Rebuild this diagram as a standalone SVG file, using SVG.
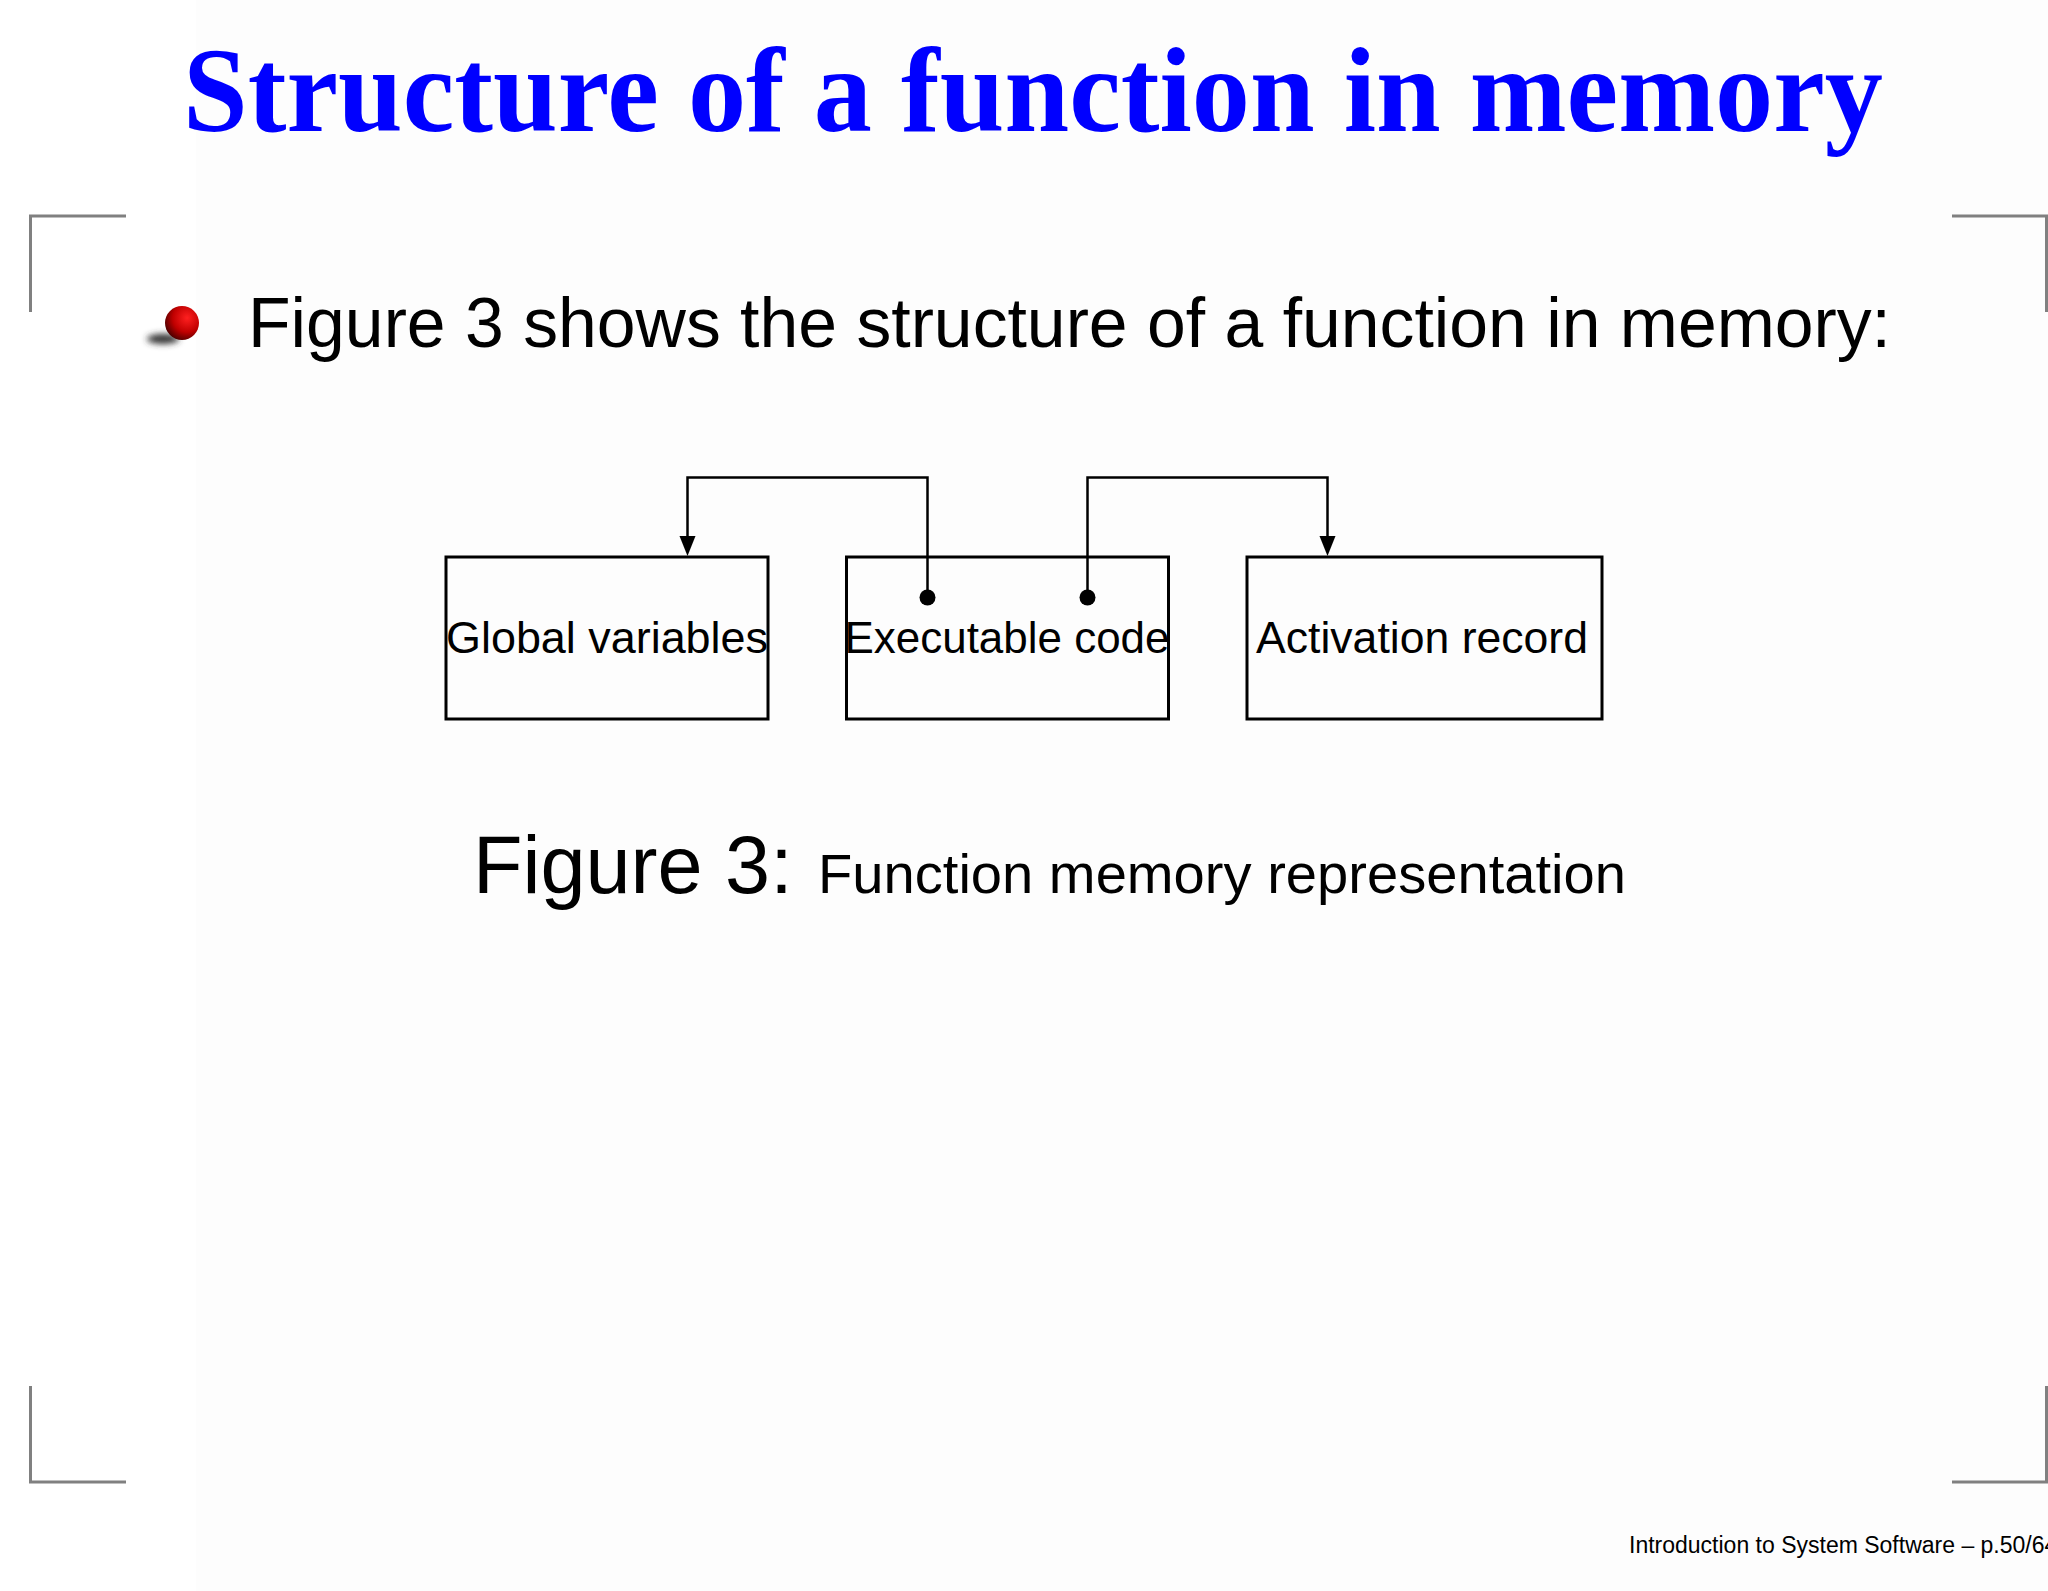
<svg xmlns="http://www.w3.org/2000/svg" width="2048" height="1591" viewBox="0 0 2048 1591">
<defs>
<style>
.corner{fill:none;stroke:#808080;stroke-width:3}
.box{fill:none;stroke:#000;stroke-width:3}
.lbl{font-family:"Liberation Sans",Arial,sans-serif;font-size:45px;fill:#000;text-anchor:middle}
.conn{fill:none;stroke:#000;stroke-width:2.5}
</style>
<marker id="arrow" markerWidth="16" markerHeight="22" refX="8" refY="20" orient="auto" markerUnits="userSpaceOnUse" viewBox="0 0 16 22">
<path d="M0,0 L16,0 L8,20 Z" fill="#000" transform="rotate(-90 8 10) translate(-1 -1)"/>
</marker>
<radialGradient id="ball" cx="0.65" cy="0.35" r="0.7">
<stop offset="0" stop-color="#ff2020"/>
<stop offset="0.6" stop-color="#c00000"/>
<stop offset="1" stop-color="#500000"/>
</radialGradient>
<filter id="blur" x="-50%" y="-100%" width="200%" height="300%"><feGaussianBlur stdDeviation="3"/></filter>
</defs>
<rect x="0" y="0" width="2048" height="1591" fill="#ffffff"/>
<rect x="196" y="0" width="1852" height="1591" fill="#fdfdfd"/>

<g id="title">
<text x="183" y="131" font-family="'Liberation Serif','Times New Roman',serif" font-weight="bold" font-size="120" fill="#0000ff" textLength="1700" lengthAdjust="spacingAndGlyphs">Structure of a function in memory</text>
</g>

<g id="corners">
<path class="corner" d="M126,216 H30.5 V312"/>
<path class="corner" d="M1952,216 H2046.5 V312"/>
<path class="corner" d="M30.5,1386 V1482 H126"/>
<path class="corner" d="M2046.5,1386 V1482 H1952"/>
</g>

<g id="bullet">
<ellipse cx="163" cy="339" rx="16" ry="5" fill="#333" filter="url(#blur)"/>
<circle cx="182" cy="323" r="17" fill="url(#ball)"/>
<text x="248" y="347" font-family="'Liberation Sans',Arial,sans-serif" font-size="70" fill="#000" textLength="1643" lengthAdjust="spacingAndGlyphs">Figure 3 shows the structure of a function in memory:</text>
</g>

<g id="node-global">
<rect class="box" x="446" y="557" width="322" height="162"/>
<text class="lbl" x="607" y="653" textLength="322" lengthAdjust="spacingAndGlyphs">Global variables</text>
</g>
<g id="node-exec">
<rect class="box" x="846.5" y="557" width="322" height="162"/>
<text class="lbl" x="1007" y="653" textLength="325" lengthAdjust="spacingAndGlyphs">Executable code</text>
</g>
<g id="node-activation">
<rect class="box" x="1247" y="557" width="355" height="162"/>
<text class="lbl" x="1422" y="653" textLength="332" lengthAdjust="spacingAndGlyphs">Activation record</text>
</g>

<g id="connectors">
<path class="conn" d="M927.5,597 V477.5 H687.5 V538"/>
<path d="M679.5,536 L695.5,536 L687.5,556 Z" fill="#000"/>
<circle cx="927.5" cy="597.5" r="8" fill="#000"/>
<path class="conn" d="M1087.5,597 V477.5 H1327.5 V538"/>
<path d="M1319.5,536 L1335.5,536 L1327.5,556 Z" fill="#000"/>
<circle cx="1087.5" cy="597.5" r="8" fill="#000"/>
</g>

<g id="caption">
<text x="473" y="893" font-family="'Liberation Sans',Arial,sans-serif" font-size="81" fill="#000">Figure 3:</text>
<text x="818" y="893" font-family="'Liberation Sans',Arial,sans-serif" font-size="56" fill="#000" textLength="808" lengthAdjust="spacingAndGlyphs">Function memory representation</text>
</g>

<g id="footer">
<text x="1629" y="1553" font-family="'Liberation Sans',Arial,sans-serif" font-size="23" fill="#000">Introduction to System Software – p.50/64</text>
</g>
</svg>
